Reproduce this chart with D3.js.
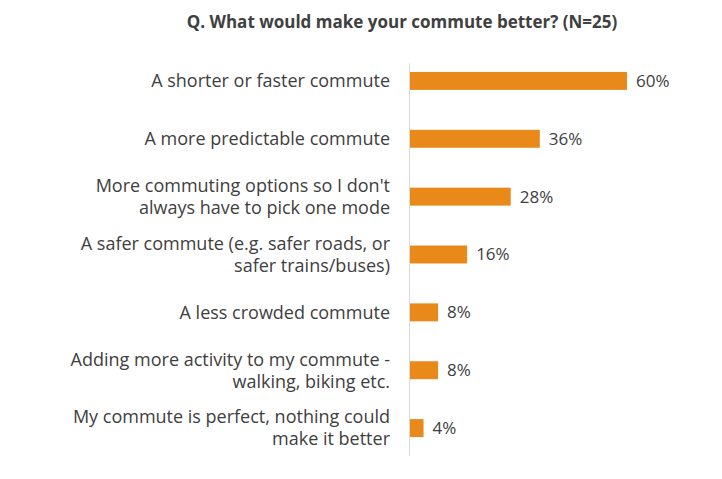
<!DOCTYPE html>
<html><head><meta charset="utf-8">
<script src="https://cdn.jsdelivr.net/npm/d3@7"></script>
<style>body{margin:0;background:#fff}svg{display:block}</style>
</head><body>
<script>
const categories = [
  ["A shorter or faster commute"],
  ["A more predictable commute"],
  ["More commuting options so I don't", "always have to pick one mode"],
  ["A safer commute (e.g. safer roads, or", "safer trains/buses)"],
  ["A less crowded commute"],
  ["Adding more activity to my commute -", "walking, biking etc."],
  ["My commute is perfect, nothing could", "make it better"]
];
const values = [60, 36, 28, 16, 8, 8, 4];
const title = "Q. What would make your commute better? (N=25)";

const W = 722, H = 479;
const svg = d3.select("body").append("svg").attr("width", W).attr("height", H);
const font = "'Open Sans', 'Liberation Sans', sans-serif";
const x = d3.scaleLinear().domain([0, 60]).range([409, 627]);
const y = d3.scaleBand().domain(d3.range(categories.length)).range([52, 457]).paddingInner(0.69).paddingOuter(0.345);

svg.append("text").attr("x", 402).attr("y", 28).attr("text-anchor", "middle")
  .attr("font-family", font).attr("font-size", 17).attr("font-weight", "bold").attr("fill", "#404040").text(title);

svg.selectAll("rect.bar").data(values).join("rect").attr("class", "bar")
  .attr("x", x(0)).attr("y", (d, i) => y(i)).attr("width", d => x(d) - x(0)).attr("height", y.bandwidth())
  .attr("fill", "#E8891A");

svg.append("line").attr("x1", 409.5).attr("x2", 409.5).attr("y1", 63).attr("y2", 456).attr("stroke", "#d9d9d9");

svg.selectAll("text.val").data(values).join("text").attr("class", "val")
  .attr("x", d => x(d) + 9).attr("y", (d, i) => y(i) + y.bandwidth() / 2).attr("dy", "0.35em")
  .attr("font-family", font).attr("font-size", 17).attr("fill", "#404040").text(d => d + "%");

const g = svg.selectAll("text.cat").data(categories).join("text").attr("class", "cat")
  .attr("text-anchor", "end").attr("font-family", font).attr("font-size", 18).attr("fill", "#404040")
  .attr("transform", (d, i) => `translate(390,${y(i) + y.bandwidth() / 2})`);
g.each(function(lines) {
  const t = d3.select(this);
  const lh = 22, off = -(lines.length - 1) * lh / 2;
  lines.forEach((l, k) => t.append("tspan").attr("x", 0).attr("y", off + k * lh).attr("dy", "0.35em").text(l));
});
</script>
</body></html>
